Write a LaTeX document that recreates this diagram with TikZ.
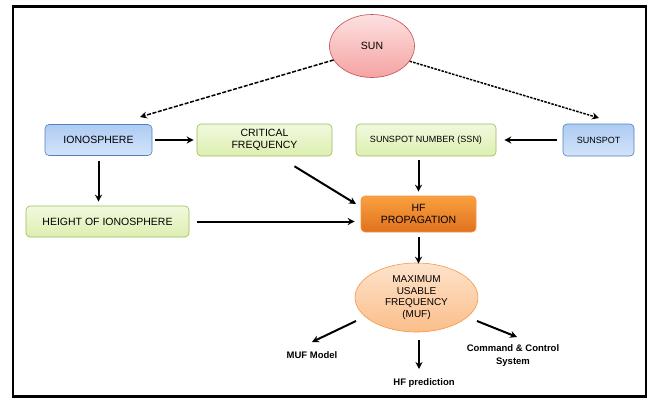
\documentclass[tikz,border=0pt]{standalone}
\usepackage{fontspec}
\setmainfont{Liberation Sans}
\usetikzlibrary{shapes.geometric,arrows.meta,shadings}
\definecolor{sunB}{HTML}{C0504D}
\definecolor{sunT}{HTML}{FDE0E0}
\definecolor{sunM}{HTML}{F5A3A3}
\definecolor{bluB}{HTML}{4F81BD}
\definecolor{bluT}{HTML}{AECBF2}
\definecolor{bluM}{HTML}{D3E4FA}
\definecolor{grnB}{HTML}{9BBB59}
\definecolor{grnT}{HTML}{DDEFB0}
\definecolor{grnM}{HTML}{F1F9DF}
\definecolor{orgB}{HTML}{F79646}
\definecolor{orgT}{HTML}{F9A03F}
\definecolor{orgM}{HTML}{E0711F}
\definecolor{mufT}{HTML}{FDE3CB}
\definecolor{mufM}{HTML}{FBBE8A}
\tikzset{
  txt/.style={font=\fontsize{10.5}{11.5}\selectfont, align=center, inner sep=1pt},
  bluebox/.style={txt, draw=bluB, rounded corners=4pt, top color=bluT, bottom color=bluM, line width=0.6pt},
  greenbox/.style={txt, draw=grnB, rounded corners=4pt, top color=grnM, bottom color=grnT, line width=0.6pt},
  orangebox/.style={txt, draw=orgB, rounded corners=4pt, top color=orgT, bottom color=orgM, line width=0.6pt},
  sunnode/.style={txt, ellipse, draw=sunB, top color=sunT, bottom color=sunM, line width=0.6pt},
  mufnode/.style={txt, ellipse, draw=orgB, top color=mufT, bottom color=mufM, line width=0.6pt, font=\fontsize{10}{11.8}\selectfont},
  outtxt/.style={font=\fontsize{9.5}{12.5}\selectfont\bfseries, align=center, inner sep=0pt},
  arr/.style={line width=2pt, -{Stealth[length=7pt,width=7pt]}},
  darr/.style={line width=1.5pt, dash pattern=on 4pt off 1.6pt, -{Stealth[length=7pt,width=7pt]}},
  darrb/.style={line width=1.5pt, dash pattern=on 2.5pt off 1.2pt, -{Stealth[length=7pt,width=7pt]}},
}
\begin{document}
\begin{tikzpicture}[x=1pt,y=-1pt]
\useasboundingbox (0,0) rectangle (654,399);
\draw[line width=2.5pt] (13,6.5) rectangle (646,396.5);
\node[sunnode, minimum width=85pt, minimum height=63pt] (sun) at (372,46) {SUN};
\node[bluebox, minimum width=107pt, minimum height=31pt] (iono) at (98.5,140) {IONOSPHERE};
\node[greenbox, minimum width=135pt, minimum height=32pt] (crit) at (264.5,140) {CRITICAL\\FREQUENCY};
\node[greenbox, minimum width=140pt, minimum height=32pt, font=\fontsize{9}{10}\selectfont] (ssn) at (426,140) {SUNSPOT NUMBER (SSN)};
\node[bluebox, minimum width=71pt, minimum height=32pt, font=\fontsize{9}{10}\selectfont] (spot) at (598.5,140) {SUNSPOT};
\node[greenbox, minimum width=163pt, minimum height=31pt] (height) at (107.5,221.5) {HEIGHT OF IONOSPHERE};
\node[orangebox, minimum width=115pt, minimum height=36pt] (hf) at (418.5,214) {HF\\PROPAGATION};
\node[mufnode, minimum width=123pt, minimum height=69pt, inner sep=0pt] (muf) at (416.5,297.5) {MAXIMUM\\USABLE\\FREQUENCY\\(MUF)};
\node[outtxt] (mufmodel) at (312,355) {MUF Model};
\node[outtxt] (hfpred) at (424,383) {HF prediction};
\node[outtxt] (cmd) at (513,355.5) {Command \& Control\\System};
\coordinate (e1) at (140,117);
\coordinate (e2) at (599,118);
\coordinate (e3) at (356,204);
\coordinate (s1) at (356,321);
\coordinate (s3) at (477,321);
\coordinate (m1) at (312,342);
\coordinate (m2) at (419,369);
\coordinate (m3) at (517,337);
\draw[darr] (sun.200) -- (e1);
\draw[darrb] (sun.-22) -- (e2);
\draw[arr] ([xshift=3pt]iono.east) -- ([xshift=-3pt]crit.west);
\draw[arr] ([yshift=-5pt]iono.south) -- ([yshift=4pt]height.north -| iono.south);
\draw[arr] ([xshift=30pt,yshift=-10pt]crit.south) -- (e3);
\draw[arr] ([xshift=8pt]height.east) -- ([xshift=-6pt]hf.west |- height.east);
\draw[arr] ([xshift=-6pt]spot.west) -- ([xshift=8pt]ssn.east);
\draw[arr] ([yshift=-4pt]ssn.south -| hf.north) -- ([yshift=4pt]hf.north);
\draw[arr] ([yshift=-5pt]hf.south) -- ([yshift=-1pt]muf.north -| hf.south);
\draw[arr] (s1) -- (m1);
\draw[arr] ([yshift=-8pt]muf.south -| m2) -- (m2);
\draw[arr] (s3) -- (m3);
\end{tikzpicture}
\end{document}
